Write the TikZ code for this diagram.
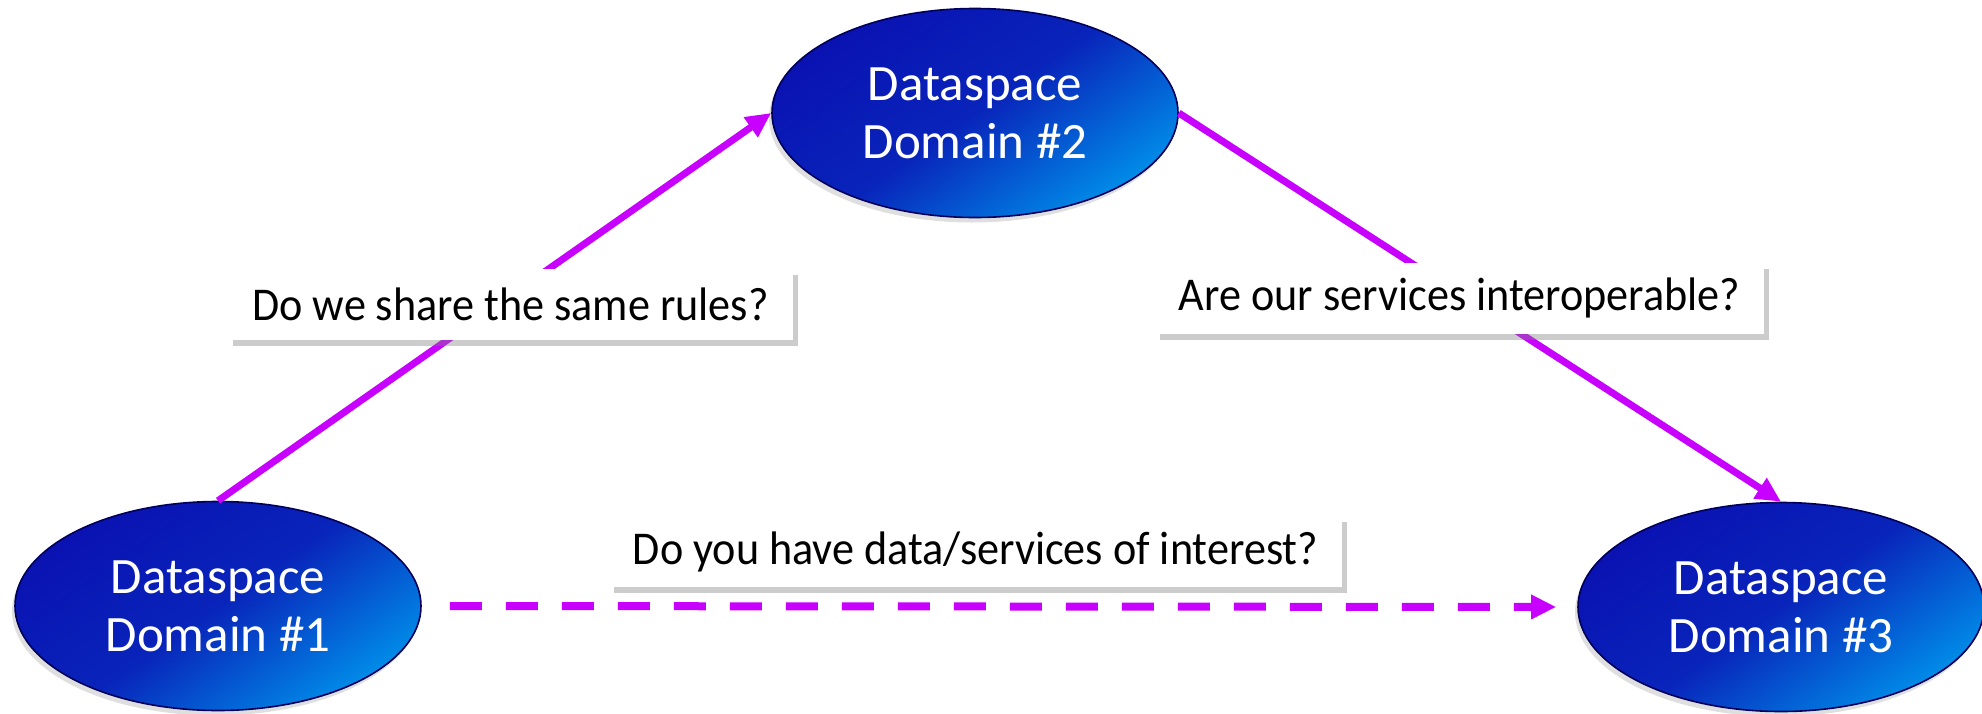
\documentclass[tikz,border=0pt]{standalone}
\usepackage{fontspec}
\setsansfont{Carlito}
\renewcommand{\familydefault}{\sfdefault}
\newfontfamily\askfont{Carlito}[FakeStretch=0.94]
\usepackage{tikz}
\usetikzlibrary{shapes.geometric,arrows.meta,shadows}

\definecolor{domdark}{RGB}{10,18,178}
\definecolor{domlight}{RGB}{0,140,232}
\definecolor{domline}{RGB}{0,0,90}
\definecolor{askline}{RGB}{200,0,255}

\tikzset{
  dsdomain/.style={ellipse, draw=domline, line width=0.8pt,
    top color=domdark, bottom color=domlight, middle color=domdark!85!domlight,
    shading angle=35, minimum width=203pt, minimum height=104.5pt,
    inner sep=0pt, align=center, text=white, font=\fontsize{25.5}{29}\selectfont,
    drop shadow={shadow xshift=-1.5pt,shadow yshift=-2.5pt,opacity=0.25}},
  question/.style={fill=white, inner xsep=12pt, minimum height=35.5pt,
    font=\askfont\fontsize{23.5}{28}\selectfont,
    drop shadow={shadow xshift=2.5pt,shadow yshift=-3pt,opacity=0.4}},
  askarrow/.style={draw=askline, line width=3.5pt, -{Triangle[length=12.5pt,width=11.5pt]}}
}

\begin{document}
\begin{tikzpicture}[x=0.5pt,y=-0.5pt]
  \useasboundingbox (0,0) rectangle (1982,713);
  % Ellipse Nodes
  \node[dsdomain] (dom1) at (218,606) {Dataspace\\Domain \#1};
  \node[dsdomain] (dom2) at (975,113) {Dataspace\\Domain \#2};
  \node[dsdomain] (dom3) at (1781,607) {Dataspace\\Domain \#3};
  % Straight Lines
  \draw[askarrow] (dom1.north) -- (dom2.west);
  \draw[askarrow] (dom2.east) -- (dom3.north);
  \draw[askarrow, line width=4pt, dash pattern=on 16pt off 12pt,
    shorten <=14pt, shorten >=10.5pt] (dom1.east) -- (dom3.west);
  % Text Node
  \node[question] (rules) at (510.5,304.5) {Do we share the same rules?};
  \node[question] (interop) at (1459.5,298) {Are our services interoperable?};
  \node[question] (interest) at (975.5,551.5) {Do you have data/services of interest?};
\end{tikzpicture}
\end{document}
